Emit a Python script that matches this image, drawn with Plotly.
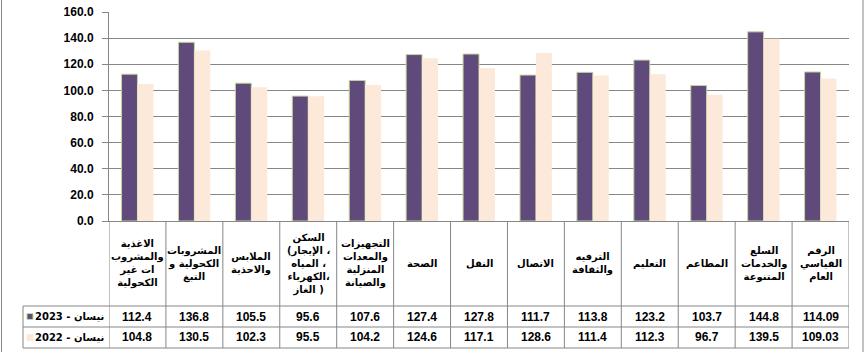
import plotly.graph_objects as go

categories = [
    "الاغذية<br>والمشروب<br>ات غير<br>الكحولية",
    "المشروبات<br>الكحولية و<br>التبغ",
    "الملابس<br>والاحذية",
    "السكن<br>(الإيجار ،<br>المياه ،<br>الكهرباء،<br>الغاز )",
    "التجهيزات<br>والمعدات<br>المنزلية<br>والصيانة",
    "الصحة",
    "النقل",
    "الاتصال",
    "الترفيه<br>والثقافة",
    "التعليم",
    "المطاعم",
    "السلع<br>والخدمات<br>المتنوعة",
    "الرقم<br>القياسي<br>العام",
]
series_names = ["نيسان - 2023", "نيسان - 2022"]
values_2023 = [112.4, 136.8, 105.5, 95.6, 107.6, 127.4, 127.8, 111.7, 113.8, 123.2, 103.7, 144.8, 114.09]
values_2022 = [104.8, 130.5, 102.3, 95.5, 104.2, 124.6, 117.1, 128.6, 111.4, 112.3, 96.7, 139.5, 109.03]
y_ticks = [0, 20, 40, 60, 80, 100, 120, 140, 160]

PURPLE = "#604A7B"
PEACH = "#FDE9D9"
OUTLINE = "#C3D69B"
GRID = "#868686"

fig = go.Figure()
fig.add_trace(go.Bar(x=categories, y=values_2023, name=series_names[0],
                     marker=dict(color=PURPLE, line=dict(color=OUTLINE, width=1))))
fig.add_trace(go.Bar(x=categories, y=values_2022, name=series_names[1],
                     marker=dict(color=PEACH, line=dict(color=PEACH, width=0))))

L, R, T, B = 109, 18, 12, 135
W, H = 867, 356
pw, ph = W - L - R, H - T - B


def py(Y):
    return (H - B - Y) / ph


def px(X):
    return (X - L) / pw


shapes = []
n = len(categories)
# table vertical lines at category boundaries
for i in range(n + 1):
    shapes.append(dict(type="line", xref="x", yref="paper", x0=i - 0.5, x1=i - 0.5,
                       y0=0, y1=py(348), line=dict(color=GRID, width=1)))
# horizontal table lines
for Y in (306, 327, 348):
    shapes.append(dict(type="line", xref="paper", yref="paper", x0=px(23), x1=1,
                       y0=py(Y), y1=py(Y), line=dict(color=GRID, width=1)))
shapes.append(dict(type="line", xref="paper", yref="paper", x0=px(23), x1=px(23),
                   y0=py(306), y1=py(348), line=dict(color=GRID, width=1)))
# outer frame sides
for X in (1.5, 863):
    shapes.append(dict(type="line", xref="paper", yref="paper", x0=px(X), x1=px(X),
                       y0=py(0), y1=py(352), line=dict(color=GRID, width=1)))
# legend keys
shapes.append(dict(type="rect", xref="paper", yref="paper", x0=px(27), x1=px(33),
                   y0=py(319.5), y1=py(313.5), fillcolor=PURPLE, line=dict(color=OUTLINE, width=1)))
shapes.append(dict(type="rect", xref="paper", yref="paper", x0=px(27), x1=px(33),
                   y0=py(340.5), y1=py(334.5), fillcolor=PEACH, line=dict(color=PEACH, width=1)))

ann = []
ar_font = dict(family="DejaVu Sans", size=10, color="black", weight="bold")
num_font = dict(family="Liberation Sans", size=12, color="black", weight="bold")
for i, c in enumerate(categories):
    ann.append(dict(x=c, y=py(263.5), xref="x", yref="paper", text=c, showarrow=False,
                    font=ar_font, xanchor="center", yanchor="middle", align="center"))
    ann.append(dict(x=c, y=py(316.5), xref="x", yref="paper", text=str(values_2023[i]),
                    showarrow=False, font=num_font, xanchor="center", yanchor="middle"))
    ann.append(dict(x=c, y=py(337.5), xref="x", yref="paper", text=str(values_2022[i]),
                    showarrow=False, font=num_font, xanchor="center", yanchor="middle"))
for name, Y in zip(series_names, (316.5, 337.5)):
    ann.append(dict(x=px(106), y=py(Y), xref="paper", yref="paper",
                    text="\u202b" + name + "\u202c", showarrow=False,
                    font=dict(family="DejaVu Sans", size=10, color="black", weight="bold"),
                    xanchor="right", yanchor="middle"))

fig.update_layout(
    width=W, height=H,
    margin=dict(l=L, r=R, t=T, b=B, autoexpand=False),
    paper_bgcolor="white", plot_bgcolor="white",
    barmode="group", bargap=0.44, bargroupgap=0,
    showlegend=False,
    shapes=shapes, annotations=ann,
    xaxis=dict(type="category", showticklabels=False, showgrid=False, zeroline=False,
               showline=True, linecolor=GRID, linewidth=1, ticks="", automargin=False,
               range=[-0.5, n - 0.5]),
    yaxis=dict(range=[0, 160], tickvals=y_ticks, tickformat=".1f", automargin=False,
               showgrid=True, gridcolor=GRID, gridwidth=1, zeroline=False,
               showline=True, linecolor=GRID, linewidth=1,
               ticks="outside", ticklen=6, tickcolor=GRID, ticklabelstandoff=6,
               tickfont=dict(family="Liberation Sans", size=12, color="black", weight="bold")),
)

fig.write_html("out.html", config={"displayModeBar": False})
with open("out.html", "r", encoding="utf-8") as f:
    html = f.read()
html = html.replace("<body>", '<body style="margin:0;padding:0;overflow:hidden">', 1)
with open("out.html", "w", encoding="utf-8") as f:
    f.write(html)
